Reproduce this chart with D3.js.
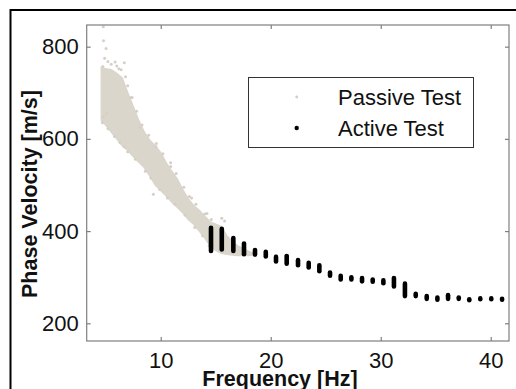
<!DOCTYPE html>
<html>
<head>
<meta charset="utf-8">
<script src="https://cdn.jsdelivr.net/npm/d3@7"></script>
<style>
  body { margin: 0; background: #fff; }
  svg { display: block; font-family: "Liberation Sans", Arial, Helvetica, sans-serif; }
</style>
</head>
<body>
<div id="chart"></div>
<script>
// passive test: dense band (low/high velocity at each frequency)
var passiveFreq = [4.6, 5.0, 5.5, 6.0, 6.5, 7.0, 7.5, 8.0, 8.5, 9.0, 9.5, 10.0, 10.5, 11.0, 11.5, 12.0, 12.5, 13.0, 13.5, 14.0, 14.5, 15.0, 15.5, 16.0, 16.5, 17.0, 17.5, 18.0, 18.4];
var passiveLow  = [640, 630, 615, 600, 585, 575, 562, 550, 538, 520, 500, 488, 476, 463, 452, 440, 425, 415, 400, 385, 368, 358, 352, 350, 348, 347, 347, 347, 348];
var passiveHigh = [755, 752, 750, 742, 732, 700, 670, 640, 615, 597, 585, 570, 548, 530, 513, 490, 470, 455, 445, 432, 420, 415, 410, 390, 378, 368, 362, 356, 352];
// passive test: scattered points, outliers and ragged band edges
var passiveDotF = [4.78, 4.8, 5.03, 4.9, 4.73, 5.85, 6.69, 6.2, 4.8, 5.1, 6.67, 9.57, 9.33, 15.55, 15.8, 7.3, 8.1, 10.9, 12.8, 14.2,
                   5.2, 5.5, 6.0, 6.4, 6.8, 7.0, 7.4, 7.8, 8.3, 8.9, 9.6, 10.2, 10.9, 11.4, 12.1, 12.6, 13.2, 14.0, 14.6,
                   4.7, 5.2, 5.8, 6.3, 7.0, 7.7, 8.6, 9.1, 9.9, 10.6, 11.3, 12.2, 13.1, 13.8, 14.4];
var passiveDotV = [843, 813, 796, 775, 757, 767, 765, 752, 648, 655, 583, 583, 480, 428, 422, 690, 625, 548, 472, 438,
                   768, 762, 758, 750, 735, 715, 690, 660, 630, 608, 590, 568, 540, 525, 495, 475, 458, 437, 425,
                   635, 622, 605, 592, 572, 556, 530, 515, 490, 472, 458, 435, 408, 390, 368];

// active test: vertical spread of velocities at each frequency
var activeFreq = [14.57, 15.55, 16.6, 17.57, 18.57, 19.55, 20.48, 21.45, 22.48, 23.45, 24.42, 25.39, 26.36, 27.33, 28.3, 29.27, 30.24, 31.2, 32.2, 33.18, 34.18, 35.15, 36.12, 37.09, 38.05, 39.05, 40.05, 41.03];
var activeLow  = [357, 360, 357, 350, 349, 345, 334, 329, 326, 321, 313, 303, 295, 295, 291, 290, 287, 280, 259, 259, 253, 251, 253, 253, 250, 252, 252, 251];
var activeHigh = [407, 405, 385, 373, 359, 355, 344, 346, 337, 331, 326, 310, 303, 300, 298, 295, 293, 298, 286, 264, 259, 256, 261, 256, 252, 254, 254, 253];

var xTicks = [10, 20, 30, 40];
var yTicks = [200, 400, 600, 800];
var legendLabels = ["Passive Test", "Active Test"];

var W = 516, H = 389;
var plot = { left: 86.7, right: 509, top: 25, bottom: 341 };
var axisColor = "#7f7f7f";
var passiveColor = "#dad6cb";

var svg = d3.select("#chart").append("svg")
    .attr("width", W)
    .attr("height", H);

// figure frame
svg.append("rect")
    .attr("x", 10.5).attr("y", 10)
    .attr("width", W + 20).attr("height", H + 20)
    .attr("fill", "none")
    .attr("stroke", "#000")
    .attr("stroke-width", 2);

var x = d3.scaleLinear().domain([3.27, 41.66]).range([plot.left, plot.right]);
var y = d3.scaleLinear().domain([161.6, 847]).range([plot.bottom, plot.top]);

var g = svg.append("g");

// passive band
var band = passiveFreq.map(function (f, i) { return { f: f, lo: passiveLow[i], hi: passiveHigh[i] }; });
g.append("path")
    .datum(band)
    .attr("fill", passiveColor)
    .attr("stroke", passiveColor)
    .attr("stroke-width", 1.5)
    .attr("d", d3.area()
        .x(function (d) { return x(d.f); })
        .y0(function (d) { return y(d.lo); })
        .y1(function (d) { return y(d.hi); }));

g.selectAll("circle.passive")
    .data(passiveDotF)
    .enter()
    .append("circle")
    .attr("class", "passive")
    .attr("cx", function (d) { return x(d); })
    .attr("cy", function (d, i) { return y(passiveDotV[i]); })
    .attr("r", 1.5)
    .attr("fill", "#d6cfc6");

// active clusters (stacked dots drawn as round-capped strokes)
g.selectAll("line.active")
    .data(activeFreq)
    .enter()
    .append("line")
    .attr("class", "active")
    .attr("x1", function (d) { return x(d); })
    .attr("x2", function (d) { return x(d); })
    .attr("y1", function (d, i) { return y(activeLow[i]); })
    .attr("y2", function (d, i) { return y(activeHigh[i]); })
    .attr("stroke", "#000")
    .attr("stroke-width", 4.6)
    .attr("stroke-linecap", "round");

// axes box
svg.append("rect")
    .attr("x", plot.left).attr("y", plot.top)
    .attr("width", plot.right - plot.left)
    .attr("height", plot.bottom - plot.top)
    .attr("fill", "none")
    .attr("stroke", axisColor)
    .attr("stroke-width", 1.2);

function styleAxis(sel) {
    sel.attr("font-family", null).attr("font-size", null);
    sel.select(".domain").remove();
    sel.selectAll(".tick line").attr("stroke", axisColor).attr("stroke-width", 1.2);
    sel.selectAll(".tick text")
        .attr("fill", "#111")
        .style("font-size", "22px");
}

svg.append("g")
    .attr("transform", "translate(0," + plot.bottom + ")")
    .call(d3.axisBottom(x).tickValues(xTicks).tickSizeInner(-4).tickSizeOuter(0).tickPadding(11))
    .call(styleAxis);

svg.append("g")
    .attr("transform", "translate(0," + plot.top + ")")
    .call(d3.axisTop(x).tickValues(xTicks).tickSizeInner(-4).tickSizeOuter(0).tickFormat(""))
    .call(styleAxis);

svg.append("g")
    .attr("transform", "translate(" + plot.left + ",0)")
    .call(d3.axisLeft(y).tickValues(yTicks).tickSizeInner(-4).tickSizeOuter(0).tickPadding(8))
    .call(styleAxis);

svg.append("g")
    .attr("transform", "translate(" + plot.right + ",0)")
    .call(d3.axisRight(y).tickValues(yTicks).tickSizeInner(-4).tickSizeOuter(0).tickFormat(""))
    .call(styleAxis);

// axis titles
svg.append("text")
    .attr("x", 280)
    .attr("y", 386)
    .attr("text-anchor", "middle")
    .style("font-size", "21.5px")
    .style("font-weight", "bold")
    .attr("fill", "#111")
    .text("Frequency [Hz]");

svg.append("text")
    .attr("transform", "translate(36.5,194) rotate(-90)")
    .attr("text-anchor", "middle")
    .style("font-size", "21.5px")
    .style("font-weight", "bold")
    .attr("fill", "#111")
    .text("Phase Velocity [m/s]");

// legend
var legend = svg.append("g");
legend.append("rect")
    .attr("x", 248.5).attr("y", 77.5)
    .attr("width", 225).attr("height", 70)
    .attr("fill", "#fff")
    .attr("stroke", "#333")
    .attr("stroke-width", 1);

var legendColors = ["#d8c8c8", "#000"];
var legendR = [1.4, 2.2];
legendLabels.forEach(function (label, i) {
    var cy = 97 + i * 31;
    legend.append("circle")
        .attr("cx", 296.7).attr("cy", cy)
        .attr("r", legendR[i])
        .attr("fill", legendColors[i]);
    legend.append("text")
        .attr("x", 338)
        .attr("y", cy + 7.8)
        .style("font-size", "22px")
        .attr("fill", "#111")
        .text(label);
});
</script>
</body>
</html>
